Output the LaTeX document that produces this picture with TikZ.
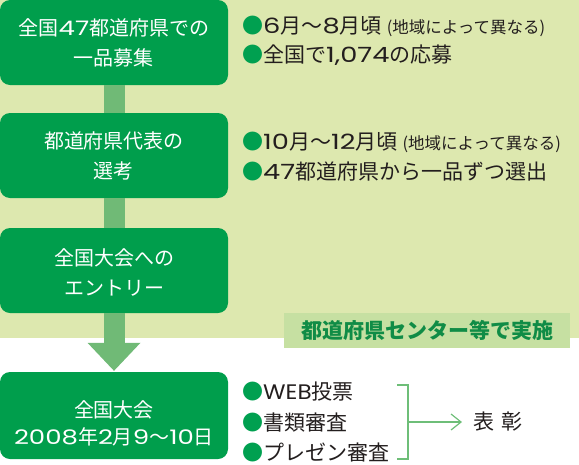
\documentclass[tikz,border=0pt]{standalone}
\usepackage{fontspec}
\setmainfont{Noto Sans CJK JP}
\newfontfamily\latfont[FakeStretch=1.3]{Poppins}
\newfontfamily\latplain[FakeStretch=1.1]{Poppins}
\usetikzlibrary{arrows.meta,calc}
\definecolor{dkgreen}{RGB}{0,158,76}
\definecolor{barc}{RGB}{112,186,118}
\definecolor{bgc}{RGB}{221,232,175}
\definecolor{labbg}{RGB}{198,224,162}
\definecolor{labtx}{RGB}{16,140,70}
\definecolor{bulc}{RGB}{0,160,80}
\definecolor{txc}{RGB}{35,30,30}
\definecolor{brc}{RGB}{110,190,120}
\tikzset{
  box/.style={fill=dkgreen, rounded corners=10pt, minimum width=228pt, inner sep=0pt},
  boxtxt/.style={text=white, align=center, inner sep=0pt, font=\fontsize{20}{30}\selectfont},
  bar/.style={draw=barc, line width=21pt},
  rtxt/.style={anchor=west, inner sep=0pt, text=txc, font=\fontsize{21}{24}\selectfont},
  brk/.style={draw=brc, line width=1.2pt},
}
\newcommand{\bul}{\textcolor{bulc}{●}}
\newcommand{\dg}[1]{{\latfont #1}}
\newcommand{\smalltx}[1]{{\fontsize{16.5}{20}\selectfont #1}}
\begin{document}
\begin{tikzpicture}[x=1pt,y={(0pt,-1pt)}]
\useasboundingbox (0,0) rectangle (579,464);
\fill[bgc] (0,0) rectangle (579,338);
\node[fill=labbg, minimum width=286pt, minimum height=35pt, inner sep=0pt,
      text=labtx, font=\fontsize{21}{24}\selectfont\bfseries] (lab) at (427,330.5) {都道府県センター等で実施};

% boxes
\node[box, minimum height=85pt] (b1) at (114,42.5) {};
\node[box, minimum height=85pt] (b2) at (114,155.5) {};
\node[box, minimum height=85pt] (b3) at (114,270.5) {};
\node[box, minimum height=87pt] (b4) at (114,415.5) {};

% connectors
\draw[bar] (b1.south) -- (b2.north);
\draw[bar] (b2.south) -- (b3.north);
\draw[bar] (b3.south) -- ([yshift=29pt]b4.north);
\fill[barc] ([xshift=-26.5pt,yshift=29pt]b4.north) -- ([xshift=26.5pt,yshift=29pt]b4.north) -- ([yshift=1pt]b4.north) -- cycle;

% box texts
\node[boxtxt] (t1) at (114,43) {全国\dg{47}都道府県での\\一品募集};
\node[boxtxt] (t2) at (114,156) {都道府県代表の\\選考};
\node[boxtxt] (t3) at (114,272) {全国大会への\\エントリー};
\node[boxtxt, font=\fontsize{20}{27}\selectfont] (t4) at (114,423) {全国大会\\\dg{2008}年\dg{2}月\dg{9}～\dg{10}日};

% right texts
\node[rtxt] (r1) at (242,26) {\bul\dg{6}月～\dg{8}月頃\hspace{5pt}\smalltx{(地域によって異なる)}};
\node[rtxt] (r2) at (242,55) {\bul 全国で\dg{1,074}の応募};
\node[rtxt] (r3) at (242,142) {\bul\dg{10}月～\dg{12}月頃\hspace{5pt}\smalltx{(地域によって異なる)}};
\node[rtxt] (r4) at (242,172) {\bul\dg{47}都道府県から一品ずつ選出};
\node[rtxt] (r5) at (242,392) {\bul{\latplain WEB}投票};
\node[rtxt] (r6) at (242,423) {\bul 書類審査};
\node[rtxt] (r7) at (242,452) {\bul プレゼン審査};

% bracket and arrow
\coordinate (bt) at (397,385);
\coordinate (bb) at (397,459);
\coordinate (bm) at (408,422);
\draw[brk] (bt) -- ++(11,0) |- (bb);
\node[rtxt, inner xsep=11pt] (hyo) at (462,422) {表\hspace{7pt}彰};
\draw[brk, -{Straight Barb[length=10pt,width=16pt]}] (bm) -- (hyo.west);
\end{tikzpicture}
\end{document}
